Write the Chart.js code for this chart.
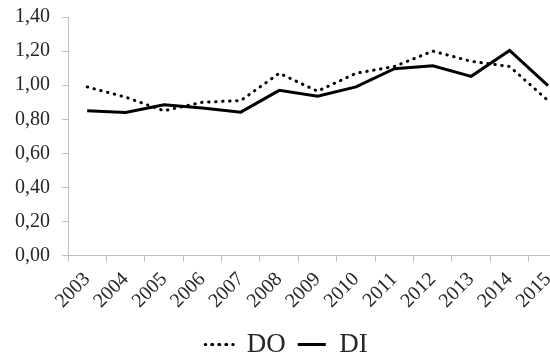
<!DOCTYPE html>
<html lang="pt">
<head>
  <meta charset="UTF-8">
  <title>DO x DI</title>
  <script src="https://cdn.jsdelivr.net/npm/chart.js"></script>
  <style>
    html, body { margin: 0; padding: 0; background: #fff; overflow: hidden; }
    .grafico { width: 571px; height: 359px; }
  </style>
</head>
<body>
  <div class="grafico">
    <canvas id="graficoDODI" width="571" height="359"></canvas>
  </div>
<script>
// anos
const anos = ['2003', '2004', '2005', '2006', '2007', '2008', '2009', '2010', '2011', '2012', '2013', '2014', '2015'];

// series
const valoresDO = [0.99, 0.93, 0.85, 0.90, 0.91, 1.07, 0.965, 1.07, 1.11, 1.20, 1.14, 1.11, 0.91];
const valoresDI = [0.85, 0.84, 0.885, 0.867, 0.842, 0.97, 0.935, 0.99, 1.097, 1.114, 1.052, 1.204, 0.998];

const corEixo = '#bfbfbf';
const corTexto = '#262626';
const fonte = "'Liberation Serif', 'Times New Roman', serif";

new Chart(document.getElementById('graficoDODI'), {
  type: 'line',
  data: {
    labels: anos,
    datasets: [
      {
        label: 'DO',
        data: valoresDO,
        borderColor: '#000',
        backgroundColor: 'rgba(0,0,0,0)',
        borderWidth: 3,
        borderDash: [0.5, 6.5],
        borderCapStyle: 'round',
        pointRadius: 0,
        tension: 0
      },
      {
        label: 'DI',
        data: valoresDI,
        borderColor: '#000',
        backgroundColor: 'rgba(0,0,0,0)',
        borderWidth: 3,
        pointRadius: 0,
        tension: 0
      }
    ]
  },
  options: {
    responsive: false,
    animation: false,
    layout: { padding: { left: 3, right: 1, top: 0, bottom: -9 } },
    plugins: {
      tooltip: { enabled: false },
      legend: {
        position: 'bottom',
        labels: {
          boxWidth: 28,
          boxHeight: 0,
          color: corTexto,
          padding: 12,
          font: { family: fonte, size: 27 }
        }
      }
    },
    scales: {
      x: {
        offset: true,
        grid: { offset: true, drawOnChartArea: false, color: corEixo, tickLength: 6 },
        border: { color: corEixo, width: 1 },
        ticks: {
          color: corTexto,
          autoSkip: false,
          minRotation: 45,
          maxRotation: 45,
          padding: 6,
          font: { family: fonte, size: 20 }
        }
      },
      y: {
        min: 0,
        max: 1.4,
        grid: { drawOnChartArea: false, color: corEixo, tickLength: 6 },
        border: { color: corEixo, width: 1 },
        ticks: {
          stepSize: 0.2,
          color: corTexto,
          padding: 12,
          font: { family: fonte, size: 20, lineHeight: 0.5 },
          callback: function (valor) {
            return valor.toFixed(2).replace('.', ',');
          }
        }
      }
    }
  }
});
</script>
</body>
</html>
